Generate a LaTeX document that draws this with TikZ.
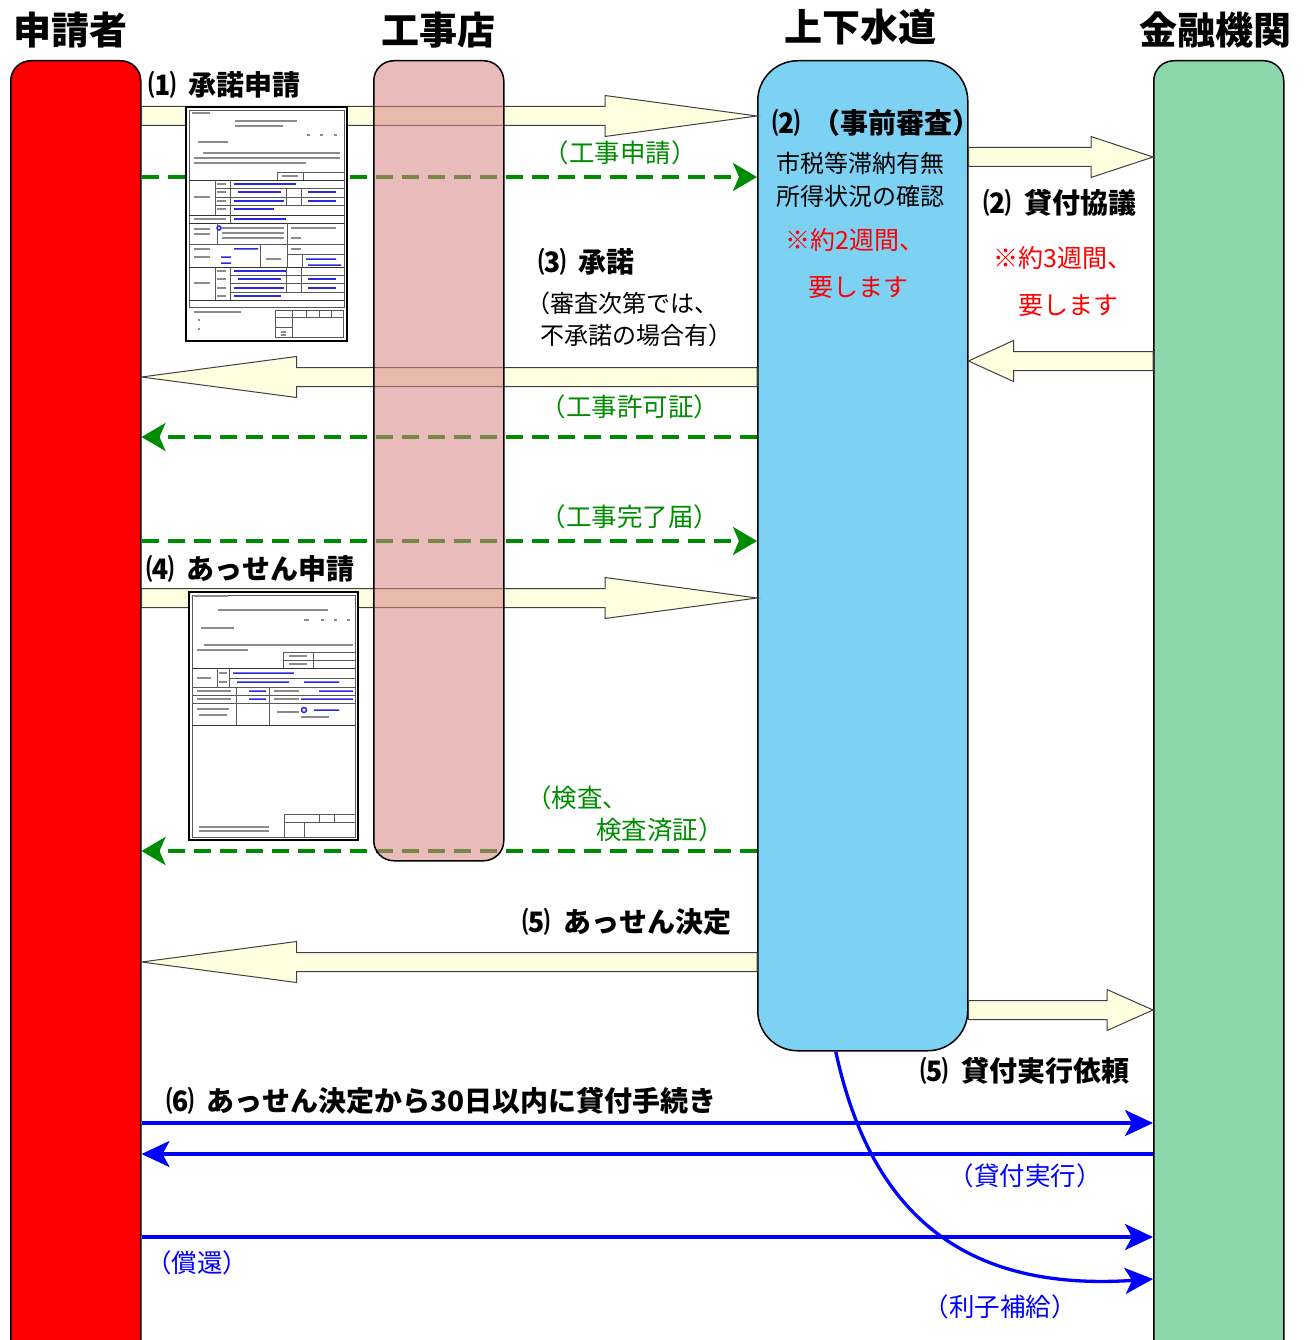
\documentclass[tikz,border=0pt]{standalone}
\usepackage{fontspec}
\setmainfont{Noto Sans CJK JP}
\usetikzlibrary{arrows.meta,calc}
\definecolor{gr}{RGB}{0,140,0}
\definecolor{bl}{RGB}{0,0,255}
\definecolor{rd}{RGB}{255,0,0}
\definecolor{ay}{RGB}{255,255,224}
\definecolor{pinkc}{RGB}{215,131,131}
\definecolor{skyc}{RGB}{125,210,244}
\definecolor{mintc}{RGB}{140,215,172}
\definecolor{fbl}{RGB}{40,40,230}
\newcommand\gp{\hspace{0.45em}}
\tikzset{
 colbox/.style={draw=black, line width=1.5pt, rounded corners=20pt, anchor=north west, inner sep=0pt},
 barrow/.style={draw=black!75, line width=1pt, fill=ay},
 gdash/.style={draw=gr, line width=3.3pt, dash pattern=on 17pt off 9pt, -{Stealth[length=24pt,width=28pt,inset=6pt]}},
 bline/.style={draw=bl, line width=3.3pt, -{Stealth[length=28pt,width=26pt,inset=7pt]}},
 headlbl/.style={font=\fontsize{38}{42}\selectfont\bfseries, inner sep=0pt},
 boldlbl/.style={font=\fontsize{28}{32}\selectfont\bfseries, inner sep=0pt},
 txt/.style={font=\fontsize{24}{28}\selectfont, inner sep=0pt},
 ctxt/.style={font=\fontsize{25.5}{29}\selectfont, inner sep=0pt},
 gtxt/.style={ctxt, text=gr},
 rtxt/.style={font=\fontsize{25}{29}\selectfont, inner sep=0pt, text=rd},
 btxt/.style={ctxt, text=bl},
 fl/.style={draw=black!65, line width=0.5pt},
 fth/.style={draw=black!80, line width=0.9pt},
 tx/.style={draw=black!45, line width=1.3pt},
 tb/.style={draw=fbl, line width=1.5pt},
}
\newcommand\blockarrow[4]{%
 \draw[barrow] let \p1=(#1), \p2=(#2) in
 (\x1,{-(#4-9.5)*1pt}) -- ({\x2-(#3)*1pt},{-(#4-9.5)*1pt}) -- ({\x2-(#3)*1pt},{-(#4-20.5)*1pt})
 -- (\x2,{-#4*1pt}) -- ({\x2-(#3)*1pt},{-(#4+20.5)*1pt}) -- ({\x2-(#3)*1pt},{-(#4+9.5)*1pt})
 -- (\x1,{-(#4+9.5)*1pt}) -- cycle;}
\begin{document}
\begin{tikzpicture}[x=1pt,y=-1pt]
\useasboundingbox (0,0) rectangle (1306,1340);
\clip (0,0) rectangle (1306,1340);
% columns
\node[colbox, fill=red, minimum width=130pt, minimum height=1330pt] (app) at (10,60) {};
\node[colbox, fill=skyc, rounded corners=40pt, minimum width=210pt, minimum height=990pt] (sewer) at (757,60) {};
\node[colbox, fill=mintc, minimum width=130pt, minimum height=1330pt] (bank) at (1153,60) {};
% block arrows
\blockarrow{app.east}{sewer.west}{152}{116}
\blockarrow{sewer.east}{bank.west}{62}{157}
\blockarrow{bank.west}{sewer.east}{-45}{361}
\blockarrow{sewer.west}{app.east}{-155}{377}
\blockarrow{app.east}{sewer.west}{152}{598}
\blockarrow{sewer.west}{app.east}{-155}{962}
\blockarrow{sewer.east}{bank.west}{46}{1010}
% green dashed
\draw[gdash] (app.east |- 0,177) -- (sewer.west |- 0,177);
\draw[gdash] (sewer.west |- 0,437) -- (app.east |- 0,437);
\draw[gdash] (app.east |- 0,541) -- (sewer.west |- 0,541);
\draw[gdash] (sewer.west |- 0,851) -- (app.east |- 0,851);
% blue lines
\draw[bline] (app.east |- 0,1123) -- (bank.west |- 0,1123);
\draw[bline] (bank.west |- 0,1154) -- (app.east |- 0,1154);
\draw[bline] (app.east |- 0,1237) -- (bank.west |- 0,1237);
\coordinate (cstart) at ($(sewer.south)+(-27,0)$);
\draw[bline] (cstart) .. controls (870,1210) and (960,1292) .. (bank.west |- 0,1279);
% form 1
\begin{scope}[shift={(186,107)}]
 \fill[white] (0,0) rectangle (161,234);
 \draw[line width=2.5pt] (0,0) rectangle (161,234);
 \draw[fl] (3,3) rectangle (158,200);
 \draw[tx] (6,6) -- (24,6);
 \draw[tx] (49,14) -- (111,14) (49,19) -- (97,19);
 \draw[tx] (121,28) -- (124,28) (134,28) -- (137,28) (148,28) -- (151,28);
 \draw[tx] (12,35) -- (42,35);
 \draw[tx] (17,46) -- (154,46) (8,51) -- (154,51) (8,56) -- (120,56);
 \draw[fl] (91,65) rectangle (158,73) (117,65) -- (117,73);
 \draw[tx] (96,69) -- (112,69);
 \draw[fth] (3,73) -- (158,73) (3,108) -- (158,108) (3,116) -- (158,116) (3,160) -- (158,160);
 \draw[fl] (29,73) -- (29,108) (44,73) -- (44,116) (29,81) -- (158,81) (29,90) -- (158,90) (29,98) -- (158,98);
 \draw[fl] (100,81) -- (100,98) (115,81) -- (115,98);
 \draw[tx] (8,90) -- (24,90) (31,77) -- (40,77) (31,85) -- (40,85) (31,94) -- (40,94) (31,102) -- (40,102) (8,112) -- (40,112);
 \draw[tb] (48,77) -- (110,77) (52,85) -- (95,85) (122,85) -- (150,85) (48,94) -- (98,94) (122,94) -- (150,94) (48,102) -- (88,102) (48,112) -- (100,112);
 \draw[fl] (3,137) -- (158,137) (74,137) -- (74,160) (101,116) -- (101,160) (31,116) -- (31,137) (101,147) -- (158,147) (116,147) -- (116,160);
 \draw[tx] (8,122) -- (24,122) (8,127) -- (24,127) (36,121) -- (98,121) (36,126) -- (98,126) (36,131) -- (98,131) (105,121) -- (150,121) (105,131) -- (115,131) (8,142) -- (24,142) (8,150) -- (24,150) (105,142) -- (115,142) (80,152) -- (95,152);
 \draw[tb] (33,121) circle (2) (48,142) -- (72,142) (35,150) -- (45,150) (35,156) -- (45,156) (120,152) -- (150,152) (122,158) -- (155,158);
 \draw[fl] (29,160) -- (29,193) (44,160) -- (44,193) (44,168) -- (158,168) (44,176) -- (158,176) (44,185) -- (158,185) (100,160) -- (100,185) (115,160) -- (115,185);
 \draw[tx] (8,176) -- (24,176) (31,164) -- (40,164) (31,172) -- (40,172) (31,181) -- (40,181) (31,189) -- (40,189);
 \draw[tb] (48,164) -- (100,164) (52,172) -- (95,172) (122,172) -- (150,172) (48,181) -- (98,181) (122,181) -- (150,181) (48,189) -- (95,189);
 \draw[fth] (3,193) -- (158,193);
 \draw[tx] (8,205) -- (55,205) (12,213) -- (14,213) (12,222) -- (14,222);
 \draw[fl] (89,203) rectangle (157,230) (89,210) -- (157,210) (106,203) -- (106,230) (89,220) -- (106,220) (120,203) -- (120,210) (133,203) -- (133,210) (145,203) -- (145,210);
 \draw[tx] (95,225) -- (100,225) (95,228) -- (100,228);
\end{scope}
% form 2
\begin{scope}[shift={(189,592)}]
 \fill[white] (0,0) rectangle (169,248);
 \draw[line width=2.5pt] (0,0) rectangle (169,248);
 \draw[fl] (3,3) rectangle (166,245);
 \draw[tx] (5,4) -- (39,4);
 \draw[tx] (29,18) -- (139,18);
 \draw[tx] (115,28) -- (120,28) (132,28) -- (135,28) (145,28) -- (148,28) (158,28) -- (161,28);
 \draw[tx] (12,36) -- (45,36);
 \draw[tx] (15,53) -- (164,53) (8,58) -- (59,58);
 \draw[fl] (94,60) rectangle (166,76) (94,68) -- (166,68) (124,60) -- (124,76);
 \draw[tx] (100,64) -- (118,64) (100,72) -- (118,72);
 \draw[fth] (3,76) -- (166,76) (3,133) -- (166,133);
 \draw[fl] (3,95) -- (166,95) (3,103) -- (166,103) (3,111) -- (166,111) (28,76) -- (28,95) (40,76) -- (40,95) (40,86) -- (166,86);
 \draw[fl] (47,95) -- (47,133) (80,95) -- (80,133);
 \draw[tx] (8,86) -- (22,86) (30,81) -- (38,81) (30,90) -- (38,90) (8,99) -- (42,99) (8,107) -- (42,107) (8,117) -- (40,117) (10,123) -- (38,123) (85,99) -- (110,99) (85,107) -- (110,107) (88,120) -- (110,120) (112,125) -- (140,125);
 \draw[tb] (44,81) -- (105,81) (48,90) -- (100,90) (115,90) -- (150,90) (60,99) -- (77,99) (130,99) -- (164,99) (60,107) -- (77,107) (112,107) -- (164,107) (115,118) circle (2.5) (125,118) -- (150,118);
 \draw[tx] (10,235) -- (80,235) (10,239) -- (80,239);
 \draw[fl] (95,222) rectangle (166,245) (95,230) -- (166,230) (115,230) -- (115,245) (130,222) -- (130,230) (145,222) -- (145,230);
\end{scope}
% contractor column on top, translucent
\node[colbox, fill=pinkc, fill opacity=0.55, minimum width=130pt, minimum height=800pt] (shop) at (373,60) {};
% headers
\node[headlbl] (hApp) at (70,30) {申請者};
\node[headlbl] (hShop) at (438,30) {工事店};
\node[headlbl] (hSewer) at (860,27) {上下水道};
\node[headlbl] (hBank) at (1215,30) {金融機関};
% labels
\node[boldlbl, anchor=west] (l1) at (148,85) {⑴\gp 承諾申請};
\node[gtxt] (g1) at (620,153) {（工事申請）};
\node[boldlbl, anchor=west] (l2) at (772,123) {⑵\gp （事前審査）};
\node[txt] (t2a) at (860,163) {市税等滞納有無};
\node[txt] (t2b) at (860,196) {所得状況の確認};
\node[rtxt] (r2a) at (855,240) {※約2週間、};
\node[rtxt] (r2b) at (858,288) {要します};
\node[boldlbl] (l2b) at (1060,203) {⑵\gp 貸付協議};
\node[rtxt] (r3a) at (1063,258) {※約3週間、};
\node[rtxt] (r3b) at (1068,306) {要します};
\node[boldlbl, anchor=west] (l3) at (538,262) {⑶\gp 承諾};
\node[txt, anchor=west] (t3a) at (526,303) {（審査次第では、};
\node[txt, anchor=west] (t3b) at (540,335) {不承諾の場合有）};
\node[gtxt] (g2) at (630,407) {（工事許可証）};
\node[gtxt] (g3) at (630,517) {（工事完了届）};
\node[boldlbl, anchor=west] (l4) at (146,569) {⑷\gp あっせん申請};
\node[gtxt, anchor=west] (g4a) at (526,798) {（検査、};
\node[gtxt, anchor=west] (g4b) at (596,830) {検査済証）};
\node[boldlbl] (l5) at (627,922) {⑸\gp あっせん決定};
\node[boldlbl] (l5b) at (1025,1071) {⑸\gp 貸付実行依頼};
\node[boldlbl, anchor=west] (l6) at (166,1101) {⑹\gp あっせん決定から30日以内に貸付手続き};
\node[btxt] (b1) at (1025,1176) {（貸付実行）};
\node[btxt] (b2) at (197,1263) {（償還）};
\node[btxt] (b3) at (1000,1307) {（利子補給）};
\end{tikzpicture}
\end{document}
